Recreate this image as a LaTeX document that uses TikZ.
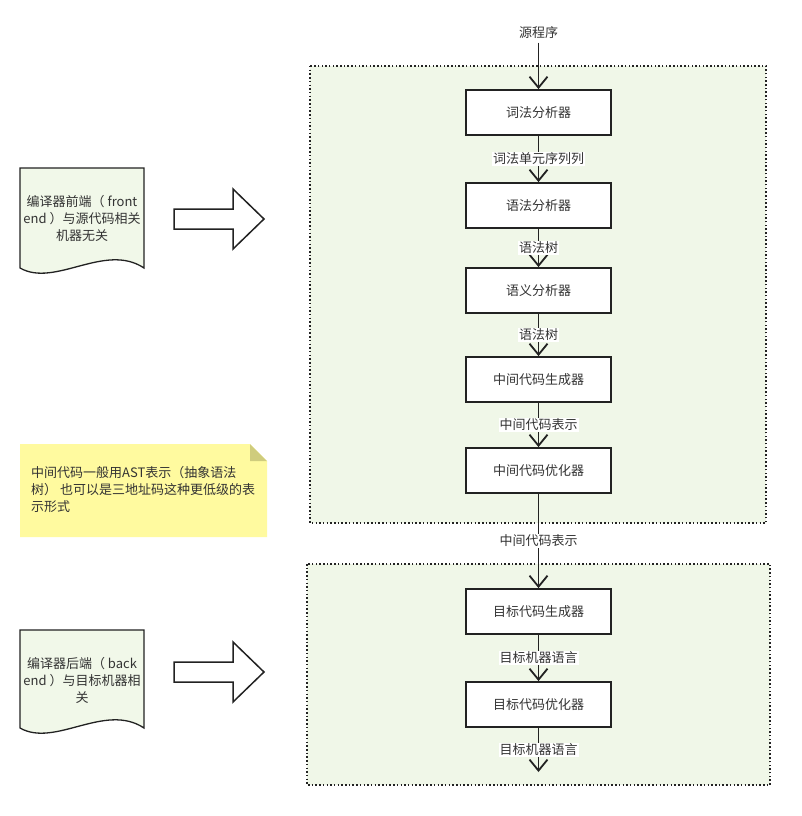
\documentclass[tikz,border=0pt]{standalone}
\usepackage{fontspec}
\setmainfont{Noto Sans CJK SC}
\usetikzlibrary{arrows.meta}
\definecolor{ink}{HTML}{333333}
\definecolor{edge}{HTML}{222222}
\definecolor{grp}{HTML}{F0F7E8}
\definecolor{docbg}{HTML}{F1F8E9}
\definecolor{note}{HTML}{FFFA9F}
\definecolor{fold}{HTML}{CFCC7D}
\tikzset{
  grpbox/.style={draw=edge, fill=grp, line width=1.5pt, dash pattern=on 1.5pt off 2.2pt},
  stage/.style={draw=edge, fill=white, line width=1.8pt, minimum width=145pt, minimum height=45pt, inner sep=0pt, text=ink, font=\fontsize{13}{16}\selectfont},
  flow/.style={draw=edge, line width=1.8pt, -{Straight Barb[length=11pt,width=18pt]}},
  elab/.style={fill=white, text=ink, inner sep=1pt, font=\fontsize{13}{16}\selectfont},
  docshape/.style={draw=edge, fill=docbg, line width=1.3pt},
  bigarrow/.style={draw=edge, fill=white, line width=1.5pt, line join=miter},
  txt/.style={text=ink, align=center, inner sep=0pt, font=\fontsize{13}{17}\selectfont},
  notetxt/.style={text=ink, align=left, inner sep=0pt, anchor=west, font=\fontsize{13}{17}\selectfont}
}
\begin{document}
\begin{tikzpicture}[x=1pt,y=-1pt]
  \useasboundingbox (0,0) rectangle (801,816);
  % groups
  \draw[grpbox] (310,66) rectangle (766,523);
  \draw[grpbox] (307,564) rectangle (770,785);
  % left documents
  \draw[docshape] (20,168) -- (144,168) -- (144,268)
    .. controls (105,242) and (55,288) .. (20,268) -- cycle;
  \node[txt] (front) at (82,218) {编译器前端（ front\\end ）与源代码相关\\机器无关};
  \draw[docshape] (20,630) -- (144,630) -- (144,728)
    .. controls (105,702) and (55,748) .. (20,728) -- cycle;
  \node[txt] (back) at (82,680) {编译器后端（ back\\end ）与目标机器相\\关};
  % block arrows
  \draw[bigarrow] (174,209) -- (233,209) -- (233,189) -- (264,219)
    -- (233,249) -- (233,229) -- (174,229) -- cycle;
  \draw[bigarrow] (174,662) -- (233,662) -- (233,642) -- (264,672)
    -- (233,702) -- (233,682) -- (174,682) -- cycle;
  % note
  \fill[note] (20,444) -- (250,444) -- (267,461) -- (267,537) -- (20,537) -- cycle;
  \fill[fold] (250,444) -- (267,461) -- (250,461) -- cycle;
  \node[notetxt] (memo) at (31,489) {中间代码一般用AST表示（抽象语法\\树） 也可以是三地址码这种更低级的表\\示形式};
  % stages
  \node[text=ink, font=\fontsize{13}{16}\selectfont] (src) at (538.5,33) {源程序};
  \node[stage] (lex) at (538.5,112.5) {词法分析器};
  \node[stage] (syn) at (538.5,205.5) {语法分析器};
  \node[stage] (sem) at (538.5,290.5) {语义分析器};
  \node[stage] (icg) at (538.5,379.5) {中间代码生成器};
  \node[stage] (ico) at (538.5,470.5) {中间代码优化器};
  \node[stage] (tcg) at (538.5,611.5) {目标代码生成器};
  \node[stage] (tco) at (538.5,704.5) {目标代码优化器};
  \coordinate (out) at (538.5,772);
  \draw[flow] (src) -- (lex);
  \draw[flow] (lex) -- node[elab] {词法单元序列列} (syn);
  \draw[flow] (syn) -- node[elab] {语法树} (sem);
  \draw[flow] (sem) -- node[elab] {语法树} (icg);
  \draw[flow] (icg) -- node[elab] {中间代码表示} (ico);
  \draw[flow] (ico) -- node[elab] {中间代码表示} (tcg);
  \draw[flow] (tcg) -- node[elab] {目标机器语言} (tco);
  \draw[flow] (tco) -- node[elab] {目标机器语言} (out);
\end{tikzpicture}
\end{document}
